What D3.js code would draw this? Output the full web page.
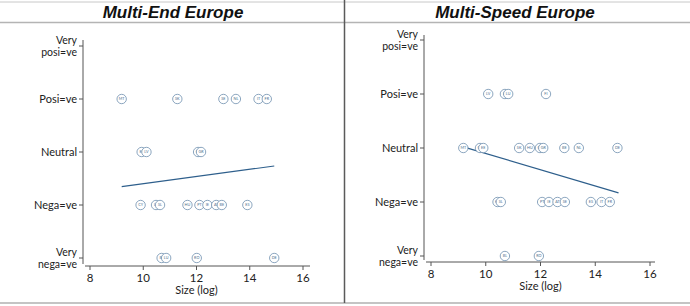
<!DOCTYPE html>
<html>
<head>
<meta charset="utf-8">
<script src="https://cdn.jsdelivr.net/npm/d3@7"></script>
<style>
  body { margin: 0; background: #fff; }
  svg { display: block; }
</style>
</head>
<body>
<script>
// attitude categories, bottom to top (-2 .. 2)
const ratingLabels = [["Very", "nega=ve"], ["Nega=ve"], ["Neutral"], ["Posi=ve"], ["Very", "posi=ve"]]
const ratingValues = [-2, -1, 0, 1, 2]
const sizeTicks = [8, 10, 12, 14, 16]
const panelTitles = ["Multi-End Europe", "Multi-Speed Europe"]

// country, size (log), rating
const multiEnd = [
  ["MT", 9.19, 1], ["SK", 11.28, 1], ["SE", 13.01, 1], ["NL", 13.48, 1], ["IT", 14.33, 1], ["FR", 14.64, 1],
  ["EE", 9.94, 0], ["LV", 10.12, 0], ["CZ", 12.06, 0], ["GR", 12.17, 0],
  ["CY", 9.90, -1], ["LT", 10.48, -1], ["SL", 10.63, -1], ["HU", 11.66, -1], ["PT", 12.11, -1],
  ["IE", 12.41, -1], ["AT", 12.74, -1], ["BE", 12.95, -1], ["ES", 13.91, -1],
  ["BL", 10.69, -2], ["LU", 10.86, -2], ["RO", 12.01, -2], ["DE", 14.92, -2]
]
const multiSpeed = [
  ["LV", 10.09, 1], ["LT", 10.70, 1], ["LU", 10.82, 1], ["FI", 12.20, 1],
  ["MT", 9.18, 0], ["CY", 9.79, 0], ["EE", 9.91, 0], ["SK", 11.22, 0], ["HU", 11.61, 0],
  ["CZ", 11.98, 0], ["GR", 12.10, 0], ["BE", 12.87, 0], ["NL", 13.40, 0], ["DE", 14.81, 0],
  ["HR", 10.43, -1], ["SL", 10.55, -1], ["PT", 12.06, -1], ["IE", 12.31, -1], ["AT", 12.62, -1],
  ["SE", 12.89, -1], ["ES", 13.84, -1], ["IT", 14.23, -1], ["FR", 14.53, -1],
  ["BL", 10.70, -2], ["RO", 11.94, -2]
]
// fitted line ends [size, rating]
const multiEndFit = [[9.19, -0.655], [14.92, -0.264]]
const multiSpeedFit = [[9.18, 0.02], [14.85, -0.83]]

const W = 690, H = 306
const svg = d3.select("body").append("svg").attr("width", W).attr("height", H)
svg.append("rect").attr("width", W).attr("height", H).attr("fill", "#fff")

// table-like frame
svg.append("line").attr("x1", 0).attr("x2", W).attr("y1", 2).attr("y2", 2).attr("stroke", "#c8c8c8").attr("stroke-width", 1)
svg.append("line").attr("x1", 0).attr("x2", W).attr("y1", 22.5).attr("y2", 22.5).attr("stroke", "#b4b4b4").attr("stroke-width", 1.6)
svg.append("line").attr("x1", 0).attr("x2", W).attr("y1", 303).attr("y2", 303).attr("stroke", "#c4c4c4").attr("stroke-width", 2)
svg.append("line").attr("x1", 344.5).attr("x2", 344.5).attr("y1", 0).attr("y2", 303).attr("stroke", "#5a5a5a").attr("stroke-width", 1.5)

const panels = [
  { title: panelTitles[0], cx: 173, data: multiEnd, fit: multiEndFit,
    x: d3.scaleLinear([8, 16], [90, 303]), y: d3.scaleLinear([-2, 2], [258, 46]),
    yAxisX: 83, xAxisY: 266, yTop: 40, xRight: 310 },
  { title: panelTitles[1], cx: 515, data: multiSpeed, fit: multiSpeedFit,
    x: d3.scaleLinear([8, 16], [431, 650]), y: d3.scaleLinear([-2, 2], [256, 40]),
    yAxisX: 424, xAxisY: 262, yTop: 35, xRight: 655 }
]

const axisCol = "#555"
const labFont = "Lato, 'Open Sans', sans-serif"

panels.forEach(p => {
  svg.append("text")
    .attr("x", p.cx).attr("y", 18)
    .attr("text-anchor", "middle")
    .style("font", "italic bold 17px 'Liberation Sans', Arial, sans-serif")
    .attr("fill", "#111")
    .text(p.title)

  // y axis
  let gy = svg.append("g")
  gy.append("line").attr("x1", p.yAxisX).attr("x2", p.yAxisX).attr("y1", p.yTop).attr("y2", p.xAxisY - 2)
    .attr("stroke", axisCol).attr("stroke-width", 1)
  ratingValues.forEach((v, i) => {
    let yy = p.y(v)
    gy.append("line").attr("x1", p.yAxisX - 4).attr("x2", p.yAxisX).attr("y1", yy).attr("y2", yy)
      .attr("stroke", axisCol).attr("stroke-width", 1)
    let lines = ratingLabels[i]
    lines.forEach((s, j) => {
      gy.append("text")
        .attr("text-anchor", "end")
        .style("font", (lines.length > 1 ? "10.5px " : "11px ") + labFont)
        .attr("fill", "#222")
        .attr("x", p.yAxisX - 6)
        .attr("y", yy + (j - (lines.length - 1) / 2) * 12)
        .attr("dy", "0.35em")
        .text(s)
    })
  })

  // x axis
  let gx = svg.append("g")
  gx.append("line").attr("x1", p.yAxisX + 2).attr("x2", p.xRight).attr("y1", p.xAxisY).attr("y2", p.xAxisY)
    .attr("stroke", axisCol).attr("stroke-width", 1)
  sizeTicks.forEach(v => {
    let xx = p.x(v)
    gx.append("line").attr("x1", xx).attr("x2", xx).attr("y1", p.xAxisY).attr("y2", p.xAxisY + 4)
      .attr("stroke", axisCol).attr("stroke-width", 1)
    gx.append("text").attr("x", xx).attr("y", p.xAxisY + 11.5).attr("dy", "0.35em")
      .attr("text-anchor", "middle").style("font", "11.5px " + labFont).attr("fill", "#222")
      .text(v)
  })
  gx.append("text").attr("x", p.x(12)).attr("y", p.xAxisY + 24.5).attr("dy", "0.35em")
    .attr("text-anchor", "middle").style("font", "11px " + labFont).attr("fill", "#222")
    .text("Size (log)")

  // fitted line
  svg.append("path")
    .datum(p.fit)
    .attr("d", d3.line().x(d => p.x(d[0])).y(d => p.y(d[1])))
    .attr("fill", "none").attr("stroke", "#2e5f8c").attr("stroke-width", 1.2)

  // country markers
  let g = svg.append("g").selectAll("g").data(p.data).enter().append("g")
    .attr("transform", d => "translate(" + p.x(d[1]) + "," + p.y(d[2]) + ")")
  g.append("circle").attr("r", 4.7)
    .attr("fill", "#fff").attr("stroke", "#6f8fae").attr("stroke-width", 0.8)
  g.append("text").attr("text-anchor", "middle").attr("dy", "0.35em")
    .style("font", "3.8px " + labFont).attr("fill", "#4d6f90")
    .text(d => d[0])
})
</script>
</body>
</html>
